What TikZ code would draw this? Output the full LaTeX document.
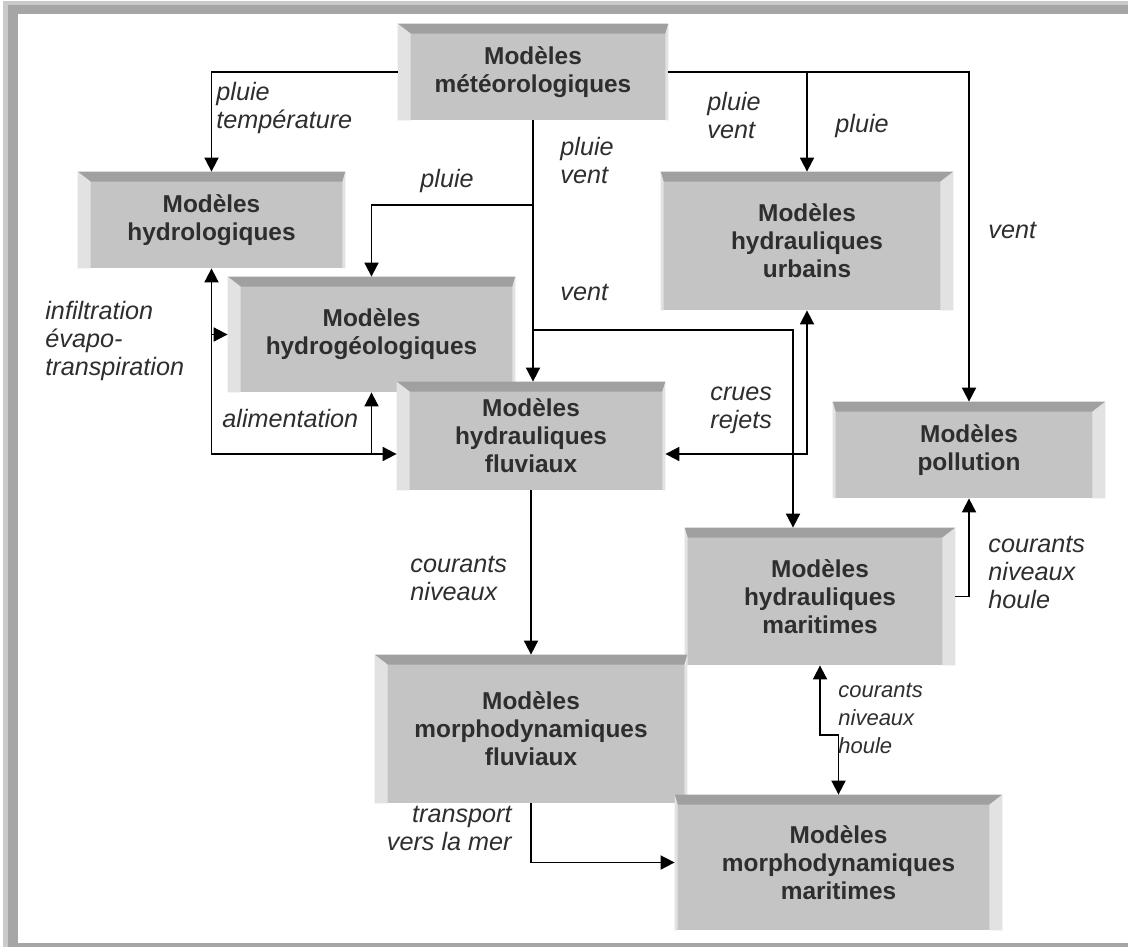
\documentclass[tikz,border=0pt]{standalone}
\usepackage{fontspec}
\setmainfont{Liberation Sans}
\usetikzlibrary{arrows.meta,calc}

\definecolor{face}{HTML}{C4C4C4}
\definecolor{haut}{HTML}{A0A0A0}
\definecolor{cote}{HTML}{E2E2E2}
\definecolor{texte}{HTML}{2E2E2E}
\definecolor{cadre}{HTML}{A6A6A6}

\begin{document}
\begin{tikzpicture}[x=0.5pt,y=-0.5pt,
  boite/.style={fill=face,inner sep=0pt,align=center,text=texte,
    font=\bfseries\fontsize{12.2}{14}\selectfont},
  etiq/.style={inner sep=0pt,anchor=west,align=left,text=texte,
    font=\itshape\fontsize{12.6}{14}\selectfont},
  fl/.style={line width=0.9pt,-{Triangle[length=7pt,width=7pt]}},
  fl2/.style={line width=0.9pt,{Triangle[length=7pt,width=7pt]}-{Triangle[length=7pt,width=7pt]}}]
\def\boite#1#2#3#4#5#6#7{%
  \node[boite,minimum width=#3*0.5pt,minimum height=#4*0.5pt] (#1) at (#2) {#7};
  \fill[haut] (#1.north west) -- (#1.north east) -- ($(#1.north east)+(-#6pt,-5pt)$) -- ($(#1.north west)+(#5pt,-5pt)$) -- cycle;
  \fill[cote] (#1.north west) -- ($(#1.north west)+(#5pt,-5pt)$) -- ($(#1.south west)+(#5pt,0)$) -- (#1.south west) -- cycle;
  \fill[cote] (#1.north east) -- ($(#1.north east)+(-#6pt,-5pt)$) -- ($(#1.south east)+(-#6pt,0)$) -- (#1.south east) -- cycle;}
\useasboundingbox (0,0) rectangle (1128,947);
\fill[cadre!60] (3,1) rectangle (1128,947);
\fill[cadre] (8,5) rectangle (1128,947);
\fill[white] (18,14) rectangle (1128,943);

\boite{met}{533,72}{270}{96}{6.5}{1.5}{Modèles\\météorologiques}
\boite{hydro}{211.5,220}{267}{96}{6.5}{1.5}{Modèles\\hydrologiques}
\boite{urb}{807,241}{292}{138}{1.5}{6.5}{Modèles\\hydrauliques\\urbains}
\boite{geo}{371.5,334.5}{287}{115}{6.5}{1.5}{Modèles\\hydrogéologiques}
\boite{fluv}{531,436}{268}{108}{6.5}{1.5}{Modèles\\hydrauliques\\fluviaux}
\boite{pol}{969,450}{272}{96}{1.5}{6.5}{Modèles\\pollution}
\boite{mar}{820,596.5}{270}{137}{1.5}{6.5}{Modèles\\hydrauliques\\maritimes}
\boite{mfl}{531,729}{312}{148}{6.5}{1.5}{Modèles\\morphodynamiques\\fluviaux}
\boite{mma}{838.5,862.5}{327}{135}{1.5}{6.5}{Modèles\\morphodynamiques\\maritimes}

\coordinate (h1) at (0,205);
\coordinate (h2) at (0,330);
\coordinate (v) at (793,330);
\coordinate (h3) at (0,454);
\coordinate (h4) at (0,735);

% meteo vers le reste
\draw[fl] (met.west) -| (hydro.north);
\draw[fl] (met.east) -| (pol.north);
\draw[fl] (met.east -| urb.north) -- (urb.north);
\draw[fl] (met.south) -- (met.south |- fluv.north);
\draw[fl] (met.south |- h1) -| (geo.north);
\draw[fl] (met.south |- h2) -- (v) -- (v |- mar.north);

% hydrologiques, hydrogeologiques, fluviaux
\draw[fl2] (hydro.south) |- (fluv.west |- h3);
\draw[fl] (hydro.south |- geo.west) -- (geo.west);
\draw[fl] (geo.south |- h3) -- (geo.south);
\draw[fl2] (fluv.east |- h3) -| (urb.south);

% vers l'aval
\draw[fl] (fluv.south) -- (fluv.south |- mfl.north);
\draw[fl] (mfl.south) |- (mma.west);
\draw[fl] (mar.east) -| (pol.south);
\draw[fl2] (mar.south) -- (mar.south |- h4) -- (mma.north |- h4) -- (mma.north);

\node[etiq] (e1) at (216,108) {pluie\\température};
\node[etiq] (e2) at (560,160) {pluie\\vent};
\node[etiq] (e3) at (420,181) {pluie};
\node[etiq] (e4) at (560,292) {vent};
\node[etiq] (e5) at (707,115) {pluie\\vent};
\node[etiq] (e6) at (835,126) {pluie};
\node[etiq] (e7) at (988,230) {vent};
\node[etiq] (e8) at (45,341) {infiltration\\évapo-\\transpiration};
\node[etiq] (e9) at (222,418) {alimentation};
\node[etiq] (e10) at (710,410) {crues\\rejets};
\node[etiq] (e11) at (410,578) {courants\\niveaux};
\node[etiq] (e12) at (988,572) {courants\\niveaux\\houle};
\node[etiq,font=\itshape\fontsize{11}{14}\selectfont] (e13) at (838,718) {courants\\niveaux\\houle};
\node[etiq,anchor=east,align=right] (e14) at (512,828) {transport\\vers la mer};
\end{tikzpicture}
\end{document}
